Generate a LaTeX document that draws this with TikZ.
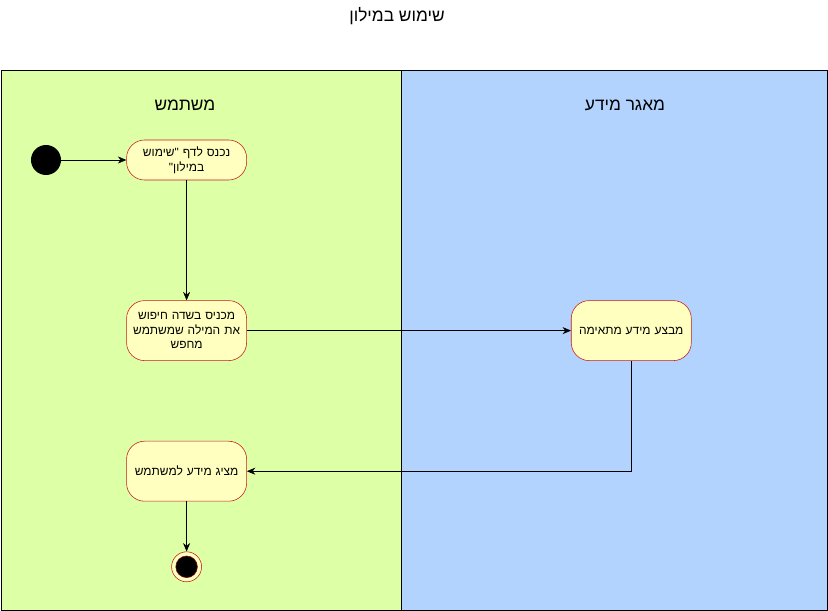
\documentclass[tikz,border=0pt]{standalone}
\usepackage{fontspec}
\newfontfamily\hebfont[Script=Hebrew]{Liberation Sans}
\TeXXeTstate=1
\newcommand{\rtltext}[1]{\beginR #1\endR}
\definecolor{usergreen}{RGB}{221,255,166}
\definecolor{dbblue}{RGB}{179,211,255}
\definecolor{actfill}{RGB}{255,255,192}
\definecolor{actline}{RGB}{204,24,24}
\usetikzlibrary{arrows.meta, positioning}

\begin{document}
\begin{tikzpicture}[x=0.025cm, y=-0.025cm,
            action/.style={draw=actline, rounded corners=0.45cm, fill=actfill, align=center, minimum width=3cm, minimum height=1.5cm, text width=2.7cm, font=\hebfont\fontsize{8.5}{10.5}\selectfont},
            lanetitle/.style={font=\hebfont\fontsize{12.3}{14}\selectfont},
            startdot/.style={circle, fill=black, minimum size=0.75cm, inner sep=0pt},
            enddot/.style={circle, draw=actline, fill=actfill, minimum size=0.75cm, inner sep=0pt,
                path picture={\fill[black, draw=actline!60!black] (path picture bounding box.center) circle (0.27cm);}},
            arr/.style={-{Stealth[length=6pt, width=5pt]}, black}
        ]
            \useasboundingbox (0,0) rectangle (828,611);
            % swimlanes
            \fill[usergreen] (1,70) rectangle (401,610);
            \fill[dbblue] (401,70) rectangle (827,610);
            \draw (1,70) rectangle (827,610);
            \draw (401,70) -- (401,610);
            \node[lanetitle] (title) at (397,16) {\rtltext{שימוש במילון}};
            \node[lanetitle] (user) at (185,105) {\rtltext{משתמש}};
            \node[lanetitle] (db) at (625,105) {\rtltext{מאגר מידע}};
            % activities
            \node[startdot] (init) at (46,160) {};
            \node[action, minimum height=1cm, right=1.625cm of init] (enter) {\rtltext{נכנס לדף \hbox{"}שימוש}\\\rtltext{במילון\hbox{"}}};
            \node[action, below=3cm of enter] (query) {\rtltext{מכניס בשדה חיפוש}\\\rtltext{את המילה שמשתמש}\\\rtltext{מחפש}};
            \node[action, right=8.1cm of query] (search) {\rtltext{מבצע מידע מתאימה}};
            \node[action, below=2cm of query] (show) {\rtltext{מציג מידע למשתמש}};
            \node[enddot, below=1.25cm of show] (final) {};
            \draw[arr] (init) -- (enter);
            \draw[arr] (enter) -- (query);
            \draw[arr] (query) -- (search);
            \draw[arr] (search.south) |- (show.east);
            \draw[arr] (show) -- (final);
        \end{tikzpicture}
\end{document}
